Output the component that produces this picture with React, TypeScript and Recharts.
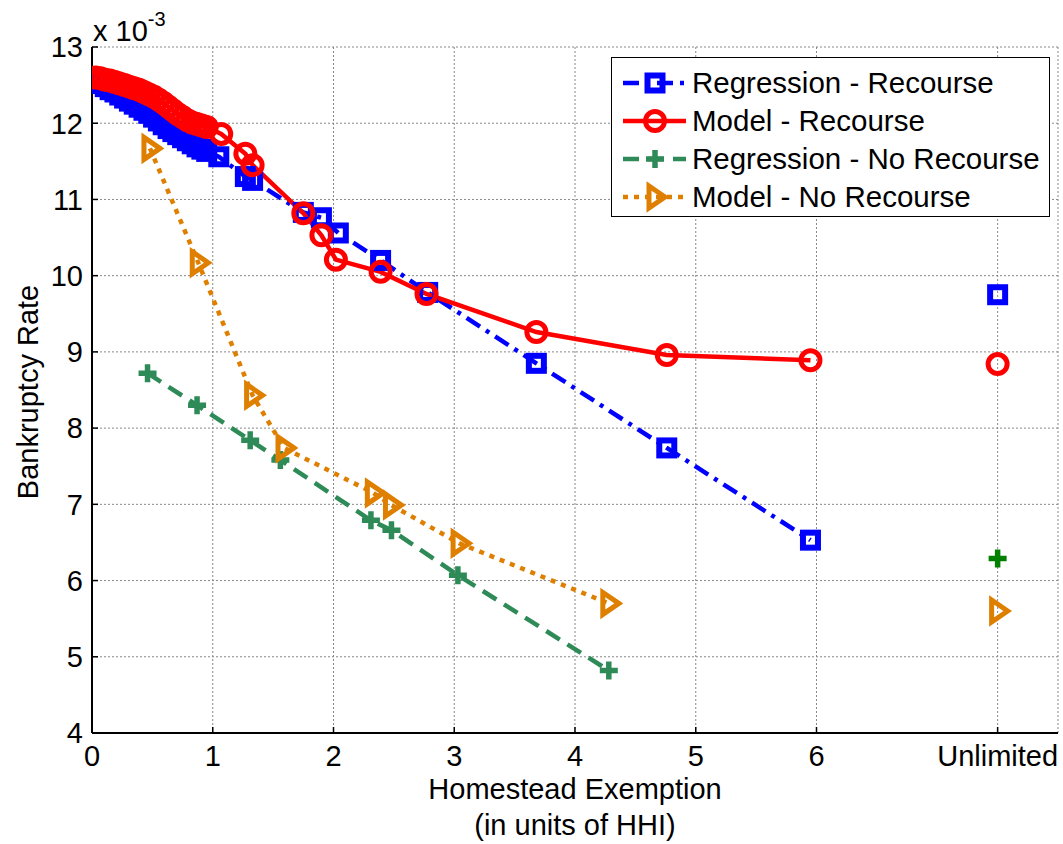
import React from "react";
import {
  CartesianGrid,
  ComposedChart,
  Line,
  Scatter,
  XAxis,
  YAxis,
} from "recharts";

// Homestead exemption (units of HHI) vs bankruptcy rate (x 10^-3)
const regRecX = [0.03, 0.07, 0.11, 0.15, 0.19, 0.23, 0.27, 0.31, 0.35, 0.39, 0.43, 0.47, 0.51, 0.55, 0.59, 0.63, 0.67, 0.71, 0.75, 0.79, 0.83, 0.87, 0.91, 0.95, 1.05, 1.27, 1.33, 1.75, 1.9, 2.04, 2.39, 2.78, 3.68, 4.76, 5.95];
const regRecY = [12.56, 12.52, 12.48, 12.44, 12.41, 12.37, 12.33, 12.29, 12.25, 12.21, 12.17, 12.13, 12.08, 12.03, 11.98, 11.93, 11.89, 11.85, 11.81, 11.77, 11.73, 11.69, 11.66, 11.63, 11.56, 11.3, 11.25, 10.83, 10.76, 10.56, 10.2, 9.78, 8.85, 7.74, 6.53];

const modRecX = [0.03, 0.07, 0.11, 0.15, 0.19, 0.23, 0.27, 0.31, 0.35, 0.39, 0.43, 0.47, 0.51, 0.55, 0.59, 0.63, 0.67, 0.71, 0.75, 0.79, 0.83, 0.87, 0.91, 0.95, 1.07, 1.27, 1.33, 1.75, 1.9, 2.02, 2.39, 2.77, 3.68, 4.76, 5.95];
const modRecY = [12.6, 12.59, 12.57, 12.56, 12.54, 12.52, 12.5, 12.48, 12.46, 12.44, 12.41, 12.38, 12.35, 12.31, 12.27, 12.22, 12.17, 12.12, 12.08, 12.04, 12.01, 11.99, 11.97, 11.95, 11.86, 11.6, 11.45, 10.82, 10.53, 10.21, 10.05, 9.76, 9.26, 8.96, 8.89];

const regNoX = [0.46, 0.87, 1.31, 1.56, 2.31, 2.48, 3.03, 4.28];
const regNoY = [8.72, 8.3, 7.84, 7.58, 6.79, 6.66, 6.07, 4.82];

const modNoX = [0.48, 0.88, 1.33, 1.59, 2.33, 2.48, 3.04, 4.28];
const modNoY = [11.67, 10.17, 8.43, 7.74, 7.15, 6.99, 6.49, 5.7];

// "Unlimited" exemption, drawn as lone markers
const unlimitedX = 7.5;
const unlimitedY = { regRec: 9.75, modRec: 8.84, regNo: 6.29, modNo: 5.6 };

const xTicks = [0, 1, 2, 3, 4, 5, 6, 7.5];
const yTicks = [4, 5, 6, 7, 8, 9, 10, 11, 12, 13];

const FONT = "'Liberation Sans', Arial, sans-serif";
const BLUE = "#0000ff";
const RED = "#ff0000";
const GREEN = "#2e8b57";
const GREEN2 = "#008000";
const ORANGE = "#df7f00";

const zip = (xs: number[], ys: number[]) => xs.map((x, i) => ({ x, y: ys[i] }));

type MarkerKind = "square" | "circle" | "plus" | "triangle";

function Marker({ kind, cx, cy, color }: { kind: MarkerKind; cx: number; cy: number; color: string }) {
  if (cx == null || cy == null) return null;
  if (kind === "square")
    return <rect x={cx - 7.5} y={cy - 7.5} width={15} height={15} fill="none" stroke={color} strokeWidth={6} />;
  if (kind === "circle")
    return <circle cx={cx} cy={cy} r={9.5} fill="none" stroke={color} strokeWidth={5} />;
  if (kind === "plus")
    return (
      <path d={`M${cx - 9},${cy}H${cx + 9}M${cx},${cy - 9}V${cy + 9}`} stroke={color} strokeWidth={5.5} fill="none" />
    );
  return (
    <polygon
      points={`${cx + 10},${cy} ${cx - 6},${cy - 11} ${cx - 6},${cy + 11}`}
      fill="none"
      stroke={color}
      strokeWidth={5}
      strokeLinejoin="miter"
    />
  );
}

const series = [
  { name: "Regression - Recourse", data: zip(regRecX, regRecY), color: BLUE, dash: "16 7 4 7", kind: "square" as MarkerKind, lone: unlimitedY.regRec, loneColor: BLUE },
  { name: "Model - Recourse", data: zip(modRecX, modRecY), color: RED, dash: undefined, kind: "circle" as MarkerKind, lone: unlimitedY.modRec, loneColor: RED },
  { name: "Regression - No Recourse", data: zip(regNoX, regNoY), color: GREEN, dash: "16 9", kind: "plus" as MarkerKind, lone: unlimitedY.regNo, loneColor: GREEN2 },
  { name: "Model - No Recourse", data: zip(modNoX, modNoY), color: ORANGE, dash: "5 6", kind: "triangle" as MarkerKind, lone: unlimitedY.modNo, loneColor: ORANGE },
];

function LegendBox() {
  return (
    <div
      style={{
        position: "absolute",
        left: 611,
        top: 57,
        width: 437,
        height: 158,
        border: "1.5px solid #000",
        background: "#fff",
        fontFamily: FONT,
        fontSize: 29.5,
      }}
    >
      {series.map((s, i) => (
        <div key={s.name} style={{ position: "absolute", left: 0, top: 6 + i * 38, height: 38, display: "flex", alignItems: "center" }}>
          <svg width={80} height={38}>
            <line x1={11} y1={19} x2={74} y2={19} stroke={s.color} strokeWidth={4.5} strokeDasharray={s.dash} />
            <Marker kind={s.kind} cx={43} cy={19} color={s.color} />
          </svg>
          <span style={{ whiteSpace: "nowrap", lineHeight: "38px" }}>{s.name}</span>
        </div>
      ))}
    </div>
  );
}

export default function App() {
  const tickStyle = { fontSize: 29, fill: "#000", fontFamily: FONT };
  return (
    <div style={{ position: "absolute", left: 0, top: 0, width: 1063, height: 844, background: "#fff", fontFamily: FONT }}>
      <ComposedChart width={1063} height={844} margin={{ top: 47, right: 5, bottom: 71, left: 0 }}>
        <CartesianGrid stroke="#888" strokeDasharray="2 2" strokeWidth={1} />
        <XAxis
          type="number"
          dataKey="x"
          domain={[0, 8]}
          ticks={xTicks}
          allowDataOverflow
          height={40}
          tickSize={-6}
          tickMargin={18}
          tickFormatter={(v: number) => (v === 7.5 ? "Unlimited" : String(v))}
          tick={tickStyle}
          axisLine={{ stroke: "#000", strokeWidth: 2 }}
          tickLine={{ stroke: "#000", strokeWidth: 1.5 }}
        />
        <XAxis
          xAxisId="top"
          orientation="top"
          type="number"
          dataKey="x"
          domain={[0, 8]}
          ticks={xTicks}
          height={0}
          tickSize={-6}
          tick={{ fill: "none", fontSize: 1 }}
          axisLine={{ stroke: "#000", strokeWidth: 2 }}
          tickLine={{ stroke: "#000", strokeWidth: 1.5 }}
        />
        <YAxis
          type="number"
          domain={[4, 13]}
          ticks={yTicks}
          width={92}
          tickSize={-6}
          tickMargin={15}
          tick={tickStyle}
          axisLine={{ stroke: "#000", strokeWidth: 2 }}
          tickLine={{ stroke: "#000", strokeWidth: 1.5 }}
        />
        <YAxis
          yAxisId="right"
          orientation="right"
          type="number"
          domain={[4, 13]}
          ticks={yTicks}
          width={0}
          tickSize={-6}
          tick={{ fill: "none", fontSize: 1 }}
          axisLine={{ stroke: "#000", strokeWidth: 2 }}
          tickLine={{ stroke: "#000", strokeWidth: 1.5 }}
        />
        {series.map((s) => (
          <Line
            key={s.name}
            data={s.data}
            dataKey="y"
            type="linear"
            stroke={s.color}
            strokeWidth={4.5}
            strokeDasharray={s.dash}
            isAnimationActive={false}
            activeDot={false}
            dot={(p: any) => <Marker key={`${s.name}-${p.index}`} kind={s.kind} cx={p.cx} cy={p.cy} color={s.color} />}
          />
        ))}
        {series.map((s) => (
          <Scatter
            key={`${s.name}-lone`}
            data={[{ x: unlimitedX, y: s.lone }]}
            dataKey="y"
            isAnimationActive={false}
            shape={(p: any) => <Marker kind={s.kind} cx={p.cx} cy={p.cy} color={s.loneColor} />}
          />
        ))}
      </ComposedChart>

      {/* exponent label */}
      <div style={{ position: "absolute", left: 93, top: 12, fontSize: 29, whiteSpace: "nowrap" }}>
        x 10<sup style={{ fontSize: 20, position: "relative", top: -4 }}>-3</sup>
      </div>

      {/* y label */}
      <div
        style={{
          position: "absolute",
          left: 28,
          top: 392,
          fontSize: 29,
          whiteSpace: "nowrap",
          transform: "translate(-50%, -50%) rotate(-90deg)",
        }}
      >
        Bankruptcy Rate
      </div>

      {/* x label */}
      <div style={{ position: "absolute", left: 575, top: 771, transform: "translateX(-50%)", fontSize: 29, textAlign: "center", lineHeight: "36px", whiteSpace: "nowrap" }}>
        Homestead Exemption
        <br />
        (in units of HHI)
      </div>

      <LegendBox />
    </div>
  );
}
